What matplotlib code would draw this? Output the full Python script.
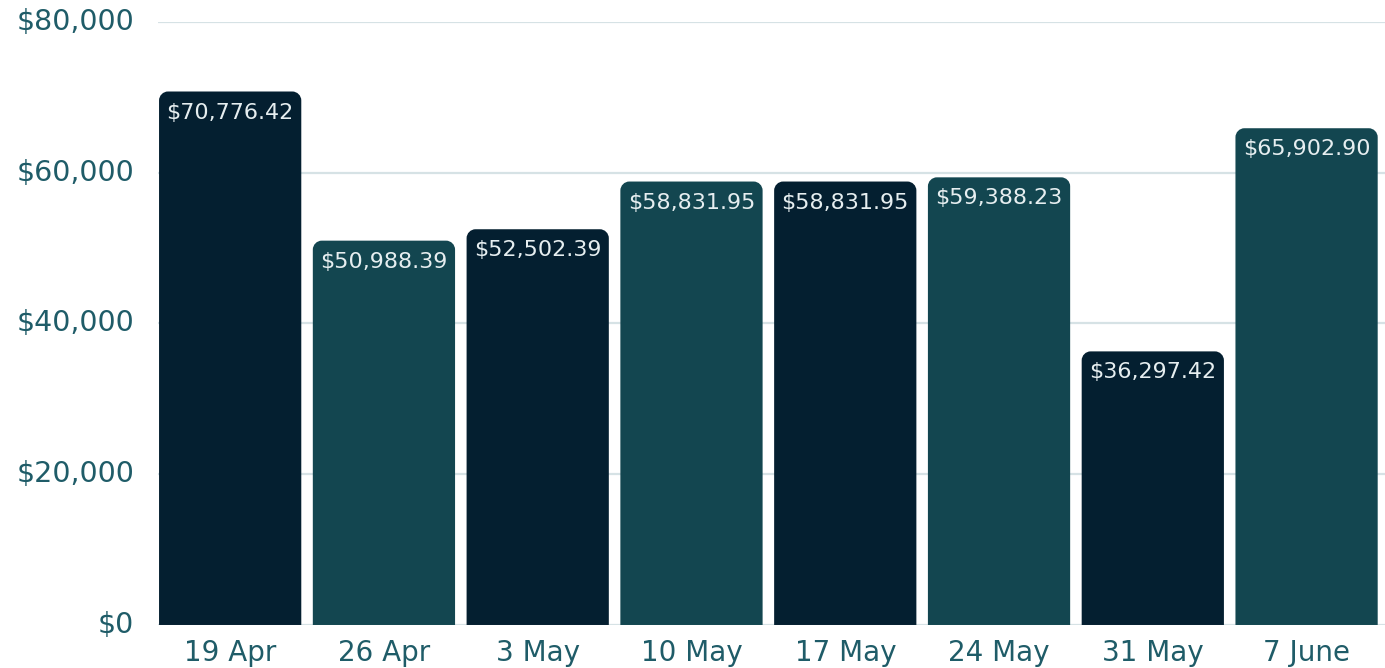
import matplotlib
matplotlib.use("Agg")
import matplotlib.pyplot as plt
from matplotlib.path import Path
from matplotlib.patches import PathPatch

categories = ["19 Apr", "26 Apr", "3 May", "10 May", "17 May", "24 May", "31 May", "7 June"]
values = [70776.42, 50988.39, 52502.39, 58831.95, 58831.95, 59388.23, 36297.42, 65902.90]
yticks = [0, 20000, 40000, 60000, 80000]

DARK = "#041f30"
TEAL = "#134650"
colors = [DARK if i % 2 == 0 else TEAL for i in range(len(values))]

fig = plt.figure(figsize=(13.85, 6.68), dpi=100)
ax = fig.add_axes([0.114, 0.0644, 0.886, 0.9027])
ax.set_xlim(-0.47, 7.51)
ax.set_ylim(0, 80000)

bars = ax.bar(range(len(values)), values, width=0.925, color=colors)

# replace with rounded-top shapes
ppx = 1.0 / (0.886 * 1385 / (7.51 + 0.47))   # data units per pixel in x
ppy = 80000 / (0.9027 * 668)                # data units per pixel in y
r = 9
rx, ry = r * ppx, r * ppy
k = 0.5523
for b, c in zip(bars, colors):
    x0, w, h = b.get_x(), b.get_width(), b.get_height()
    x1 = x0 + w
    verts = [(x0, 0), (x0, h - ry),
             (x0, h - ry + k * ry), (x0 + rx - k * rx, h), (x0 + rx, h),
             (x1 - rx, h),
             (x1 - rx + k * rx, h), (x1, h - ry + k * ry), (x1, h - ry),
             (x1, 0), (x0, 0)]
    codes = [Path.MOVETO, Path.LINETO,
             Path.CURVE4, Path.CURVE4, Path.CURVE4,
             Path.LINETO,
             Path.CURVE4, Path.CURVE4, Path.CURVE4,
             Path.LINETO, Path.CLOSEPOLY]
    b.set_visible(False)
    ax.add_patch(PathPatch(Path(verts, codes), facecolor=c, edgecolor="none", zorder=3))

for i, v in enumerate(values):
    ax.annotate(f"${v:,.2f}", xy=(i, v), xytext=(0, -21), textcoords="offset pixels",
                ha="center", va="center", color="#e6eef0", fontsize=16, zorder=4)

ax.set_yticks(yticks)
ax.set_yticklabels([f"${t:,.0f}" for t in yticks])
ax.set_xticks(range(len(categories)))
ax.set_xticklabels(categories)
ax.tick_params(axis="y", length=0, pad=17, labelsize=20.5, labelcolor="#1f5c68")
ax.tick_params(axis="x", length=0, pad=10, labelsize=20, labelcolor="#1f5c68")
for lab in ax.get_yticklabels():
    lab.set_verticalalignment("center")

ax.grid(axis="y", color="#d6e2e5", linewidth=1.6, zorder=0)
ax.set_axisbelow(True)
for s in ax.spines.values():
    s.set_visible(False)

fig.savefig("out.png", dpi=100)
